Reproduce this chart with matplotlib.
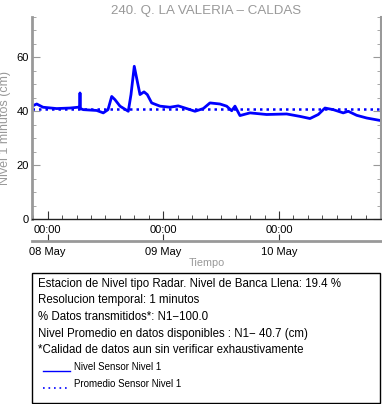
import datetime as dt
import matplotlib
matplotlib.use("Agg")
import matplotlib.pyplot as plt
import matplotlib.dates as mdates
from matplotlib.patches import Rectangle
from matplotlib.lines import Line2D

plt.rcParams['font.family'] = ['Liberation Sans', 'DejaVu Sans']

# datos (horas desde el inicio, nivel en cm)
inicio = dt.datetime(2023, 5, 7, 20, 45)
fin = dt.datetime(2023, 5, 10, 21, 10)
horas = [0.0, 0.98, 2.28, 5.12, 7.88, 9.61, 9.90, 9.96, 10.02, 10.64, 13.42,
         14.79, 15.77, 16.54, 17.22, 18.26, 19.98, 20.54, 21.22, 21.85, 22.41,
         23.24, 23.92, 24.83, 26.56, 28.63, 30.35, 32.10, 33.82, 35.54, 36.93,
         39.0, 40.39, 41.43, 42.12, 43.15, 45.23, 48.69, 52.84, 55.6, 57.68,
         59.4, 60.79, 62.51, 64.58, 65.62, 67.37, 69.44, 72.2]
nivel = [41.9, 42.7, 41.5, 41.0, 41.2, 41.5, 41.3, 46.8, 41.0, 40.6, 40.3,
         39.4, 40.6, 45.5, 44.3, 41.9, 40.0, 46.2, 56.7, 51.1, 46.2,
         47.2, 46.2, 43.1, 41.9, 41.5, 42.0, 41.0, 40.0, 41.0, 43.1,
         42.7, 41.9, 40.2, 41.9, 38.4, 39.4, 38.8, 39.0, 38.1, 37.3,
         38.8, 41.2, 40.6, 39.4, 40.0, 38.5, 37.5, 36.6]
promedio = 40.7
tiempos = [inicio + dt.timedelta(hours=h) for h in horas]

textos = ["Estacion de Nivel tipo Radar. Nivel de Banca Llena: 19.4 %",
          "Resolucion temporal: 1 minutos",
          "% Datos transmitidos*: N1\u2212100.0",
          "Nivel Promedio en datos disponibles : N1\u2212 40.7 (cm)",
          "*Calidad de datos aun sin verificar exhaustivamente"]

W, H = 382, 404
fig = plt.figure(figsize=(W / 100, H / 100), dpi=100)
ax = fig.add_axes([32 / W, (H - 219) / H, (381 - 32) / W, 202 / H])

gris = '#999999'
ax.plot(tiempos, nivel, color='blue', lw=2)
ax.plot([inicio, fin], [promedio, promedio], color='blue', lw=1.8, linestyle=(0, (1, 1.6)))

ax.set_xlim(inicio, fin)
ax.set_ylim(0, 75)
ax.set_yticks([0, 20, 40, 60])
ax.yaxis.set_minor_locator(plt.MultipleLocator(5))
ax.xaxis.set_major_locator(mdates.DayLocator())
ax.xaxis.set_major_formatter(mdates.DateFormatter('%H:%M'))
ax.xaxis.set_minor_locator(mdates.HourLocator(byhour=range(0, 24, 3)))

ax.spines['top'].set_visible(False)
ax.spines['left'].set_color(gris)
ax.spines['left'].set_linewidth(2)
ax.spines['right'].set_color(gris)
ax.spines['right'].set_linewidth(1.5)
ax.spines['bottom'].set_color('#222222')
ax.spines['bottom'].set_linewidth(1)
ax.tick_params(axis='y', which='both', direction='in', right=True, colors=gris,
               labelcolor='black', labelsize=8, pad=2)
ax.tick_params(axis='y', which='major', length=6)
ax.tick_params(axis='y', which='minor', length=3)
ax.tick_params(axis='x', which='both', direction='in', colors='#333333',
               labelcolor='black', labelsize=8, pad=4)
ax.tick_params(axis='x', which='major', length=6)
ax.tick_params(axis='x', which='minor', length=3)

ax.set_ylabel('Nivel 1 minutos (cm)', color=gris, fontsize=9, va='center')
ax.yaxis.set_label_coords(-26.5 / 349, 0.45)
ax.set_title('240. Q. LA VALERIA \u2013 CALDAS', color=gris, fontsize=9.6, pad=2)

# segundo eje con las fechas
ax2 = ax.secondary_xaxis(-0.11)
ax2.xaxis.set_major_locator(mdates.DayLocator())
ax2.xaxis.set_major_formatter(mdates.DateFormatter('%d %b'))
ax2.spines['bottom'].set_color(gris)
ax2.spines['bottom'].set_linewidth(2)
ax2.tick_params(axis='x', which='major', direction='in', length=5, colors='#333333',
                labelcolor='black', labelsize=8, pad=4)
ax2.set_xlabel('Tiempo', color=gris, fontsize=7.8, labelpad=1)

# cuadro de informacion
fig.add_artist(Rectangle((32 / W, 1 / H), (380 - 32) / W, (403 - 273) / H,
                         transform=fig.transFigure, fill=False, ec='black', lw=1))
for i, t in enumerate(textos):
    fig.text(38 / W, 1 - (284 + i * 16.5) / H, t, fontsize=8.3, va='center')
fig.add_artist(Line2D([43 / W, 70 / W], [1 - 370.5 / H] * 2, color='blue', lw=1))
fig.add_artist(Line2D([43 / W, 70 / W], [1 - 387.5 / H] * 2, color='blue', lw=1.2,
                      linestyle=(0, (1, 2.3))))
fig.text(74 / W, 1 - 367 / H, 'Nivel Sensor Nivel 1', fontsize=7, va='center')
fig.text(74 / W, 1 - 384 / H, 'Promedio Sensor Nivel 1', fontsize=7, va='center')

fig.savefig('out.png', dpi=100)
